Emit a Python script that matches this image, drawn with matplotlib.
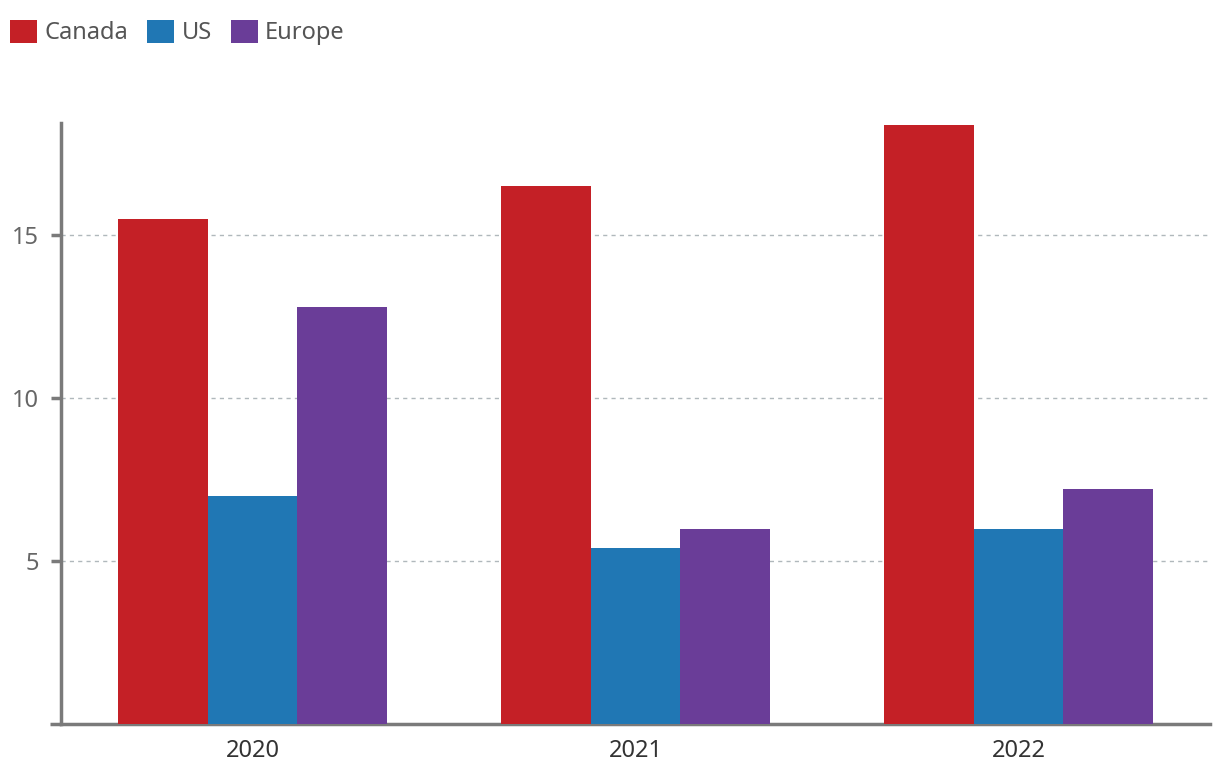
import numpy as np
import matplotlib as mpl
mpl.use('Agg')
import matplotlib.pyplot as plt
from matplotlib.patches import Patch

years = ['2020', '2021', '2022']
series = ['Canada', 'US', 'Europe']
canada = [15.5, 16.5, 18.4]
us = [7.0, 5.4, 6.0]
europe = [12.8, 6.0, 7.2]
colors = ['#c42026', '#2077b4', '#6a3d98']

plt.rcParams['font.family'] = ['Noto Sans', 'DejaVu Sans']

fig = plt.figure(figsize=(12.2, 7.78), dpi=100)
ax = fig.add_axes([0.05, 0.0694, 0.9418, 0.7726])

x = np.arange(len(years))
w = 0.234
for i, (vals, c) in enumerate(zip([canada, us, europe], colors)):
    ax.bar(x + (i - 1) * w, vals, w, color=c, zorder=3)

ax.set_xlim(-0.5, 2.5)
ax.set_ylim(0, 18.45)
ax.set_yticks([5, 10, 15])
ax.set_xticks(x)
ax.set_xticklabels(years)
ax.yaxis.grid(True, linestyle=(0, (3, 3)), color='#b0b8bc', linewidth=1, zorder=0)

for s in ['top', 'right']:
    ax.spines[s].set_visible(False)
for s in ['left', 'bottom']:
    ax.spines[s].set_color('#7a7a7a')
    ax.spines[s].set_linewidth(2.5)
# bottom axis line runs a little past the y axis
ax.plot([-0.0092, 0], [0, 0], transform=ax.transAxes, color='#7a7a7a',
        linewidth=2.5, clip_on=False, solid_capstyle='butt')

ax.tick_params(axis='y', length=7, width=2.5, color='#7a7a7a',
               labelsize=17, labelcolor='#666666', pad=9)
ax.tick_params(axis='x', length=0, labelsize=17, labelcolor='#333333', pad=11)

handles = [Patch(facecolor=c, label=s) for s, c in zip(series, colors)]
fig.legend(handles=handles, loc='upper left', bbox_to_anchor=(-0.009, 1.002),
           ncol=3, frameon=False, fontsize=17, labelcolor='#555555',
           handlelength=1.15, handleheight=1.15, handletextpad=0.3,
           columnspacing=0.8, borderaxespad=0.5)

fig.savefig('out.png', dpi=100)
